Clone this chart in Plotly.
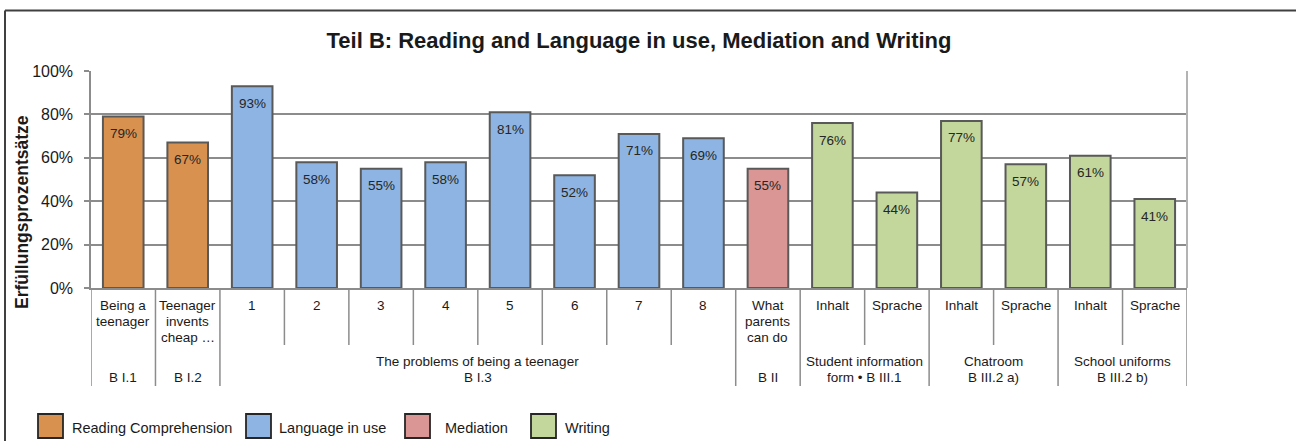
import plotly.graph_objects as go

# ---------------- data ----------------
sub_labels = ["Being a<br>teenager", "Teenager<br>invents<br>cheap …", "1", "2", "3", "4", "5", "6", "7", "8",
              "What<br>parents<br>can do", "Inhalt", "Sprache", "Inhalt", "Sprache", "Inhalt", "Sprache"]
values = [79, 67, 93, 58, 55, 58, 81, 52, 71, 69, 55, 76, 44, 77, 57, 61, 41]
areas = ["Reading Comprehension", "Reading Comprehension"] + ["Language in use"] * 8 + ["Mediation"] + ["Writing"] * 6
group_labels = ["B I.1", "B I.2", "The problems of being a teenager<br>B I.3", "B II",
                "Student information<br>form • B III.1", "Chatroom<br>B III.2 a)", "School uniforms<br>B III.2 b)"]
group_sizes = [1, 1, 8, 1, 2, 2, 2]
legend_names = ["Reading Comprehension", "Language in use", "Mediation", "Writing"]
area_colors = {"Reading Comprehension": "#D99150", "Language in use": "#8DB4E2",
               "Mediation": "#DA9694", "Writing": "#C3D69B"}

title_text = "Teil B: Reading and Language in use, Mediation and Writing"
y_title = "Erfüllungsprozentsätze"

# ---------------- geometry helpers ----------------
W, H = 1296, 441
L, R, T, B = 91, 109, 71, 153
PW = W - L - R
PH = H - T - B
FONT = "Liberation Sans, Arial, sans-serif"
GRID = "#8c8c8c"


def px2paper_x(px):
    return (px - L) / PW


def py2paper_y(py):
    return (H - B - py) / PH


n = len(values)
xs = list(range(n))

fig = go.Figure()
fig.add_trace(go.Bar(
    x=xs, y=values, width=0.63,
    marker=dict(color=[area_colors[a] for a in areas], line=dict(color="#595959", width=2)),
    showlegend=False, hoverinfo="skip",
))

annotations = []
shapes = []

# value labels inside bars
for i, v in enumerate(values):
    annotations.append(dict(x=i, y=v, xref="x", yref="y", text=f"{v}%", showarrow=False,
                            yanchor="middle", yshift=-17,
                            font=dict(family=FONT, size=13.5, color="#262626")))

# category labels (first row)
for i, lab in enumerate(sub_labels):
    for k, line in enumerate(lab.split("<br>")):
        annotations.append(dict(x=i, y=py2paper_y(305 + 16 * k), xref="x", yref="paper", text=line,
                                showarrow=False, yanchor="middle",
                                font=dict(family=FONT, size=13.5, color="#1a1a1a")))

# group labels (second row) and separators
start = 0
outer_bounds = [-0.5]
for g, size in zip(group_labels, group_sizes):
    center = start + (size - 1) / 2
    lines = g.split("<br>")
    ys = [377] if len(lines) == 1 else [361, 377]
    for line, yy in zip(lines, ys):
        annotations.append(dict(x=center, y=py2paper_y(yy), xref="x", yref="paper", text=line,
                                showarrow=False, yanchor="middle",
                                font=dict(family=FONT, size=13.5, color="#1a1a1a")))
    start += size
    outer_bounds.append(start - 0.5)

for b in [i - 0.5 for i in range(n + 1)]:
    y1 = py2paper_y(386) if b in outer_bounds else py2paper_y(345)
    shapes.append(dict(type="line", xref="x", yref="paper", x0=b, x1=b, y0=0, y1=y1,
                       line=dict(color=GRID, width=1.5)))

# plot area border (right side)
shapes.append(dict(type="line", xref="paper", yref="paper", x0=1, x1=1, y0=0, y1=1,
                   line=dict(color="#b3b3b3", width=2)))

# outer frame (top and left)
shapes.append(dict(type="line", xref="paper", yref="paper", x0=px2paper_x(5), x1=px2paper_x(1300),
                   y0=py2paper_y(10.5), y1=py2paper_y(10.5), line=dict(color="#404040", width=2)))
shapes.append(dict(type="line", xref="paper", yref="paper", x0=px2paper_x(5), x1=px2paper_x(5),
                   y0=py2paper_y(10.5), y1=py2paper_y(445), line=dict(color="#404040", width=2)))

# legend (drawn)
sq_left = [38, 246, 405, 531]
txt_left = [70, 277, 443, 563]
for name, sl, tl in zip(legend_names, sq_left, txt_left):
    shapes.append(dict(type="rect", xref="paper", yref="paper",
                       x0=px2paper_x(sl), x1=px2paper_x(sl + 25),
                       y0=py2paper_y(414), y1=py2paper_y(438),
                       fillcolor=area_colors[name], line=dict(color="#262626", width=1.8)))
    annotations.append(dict(x=px2paper_x(tl), y=py2paper_y(428), xref="paper", yref="paper",
                            text=name, showarrow=False, xanchor="left", yanchor="middle",
                            font=dict(family=FONT, size=14.5, color="#1a1a1a")))

# y axis title
annotations.append(dict(x=px2paper_x(22), y=py2paper_y(212), xref="paper", yref="paper",
                        text=f"<b>{y_title}</b>", textangle=-90, showarrow=False,
                        xanchor="center", yanchor="middle",
                        font=dict(family=FONT, size=17.5, color="#1a1a1a")))

fig.update_layout(
    width=W, height=H,
    margin=dict(l=L, r=R, t=T, b=B, pad=0),
    paper_bgcolor="white", plot_bgcolor="white",
    title=dict(text=f"<b>{title_text}</b>", x=0.5, xref="paper", xanchor="center",
               y=1 - 40 / H, yref="container", yanchor="middle",
               font=dict(family=FONT, size=22, color="#1a1a1a")),
    xaxis=dict(range=[-0.5, n - 0.5], showticklabels=False, showgrid=False, zeroline=False,
               showline=True, linecolor=GRID, linewidth=1.5, ticks="", fixedrange=True),
    yaxis=dict(range=[0, 100], dtick=20, tick0=0, ticksuffix="%", showgrid=True, gridcolor=GRID,
               gridwidth=1.5, zeroline=False, showline=True, linecolor=GRID, linewidth=1.5,
               ticks="outside", ticklen=5, tickcolor=GRID, tickwidth=1.5, ticklabelstandoff=8,
               tickfont=dict(family=FONT, size=16, color="#1a1a1a")),
    annotations=annotations,
    shapes=shapes,
    font=dict(family=FONT),
)

fig.write_html("out.html")
